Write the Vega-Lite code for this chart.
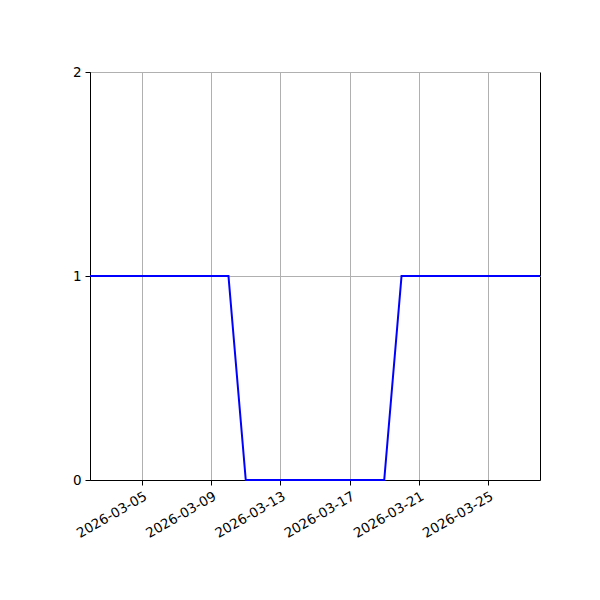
{
  "$schema": "https://vega.github.io/schema/vega-lite/v6.json",
  "width": 450,
  "height": 408,
  "autosize": {"type": "none"},
  "padding": {"left": 90, "top": 72, "right": 60, "bottom": 120},
  "background": "white",
  "config": {
    "view": {"stroke": "black", "strokeWidth": 1},
    "axis": {
      "domainColor": "black",
      "tickColor": "black",
      "tickSize": 5,
      "labelFont": "DejaVu Sans",
      "labelFontSize": 13.5,
      "labelColor": "black",
      "gridColor": "#b0b0b0",
      "gridWidth": 1,
      "title": null
    }
  },
  "data": {
    "values": [
      {"date": "2026-03-02", "value": 1},
      {"date": "2026-03-03", "value": 1},
      {"date": "2026-03-04", "value": 1},
      {"date": "2026-03-05", "value": 1},
      {"date": "2026-03-06", "value": 1},
      {"date": "2026-03-07", "value": 1},
      {"date": "2026-03-08", "value": 1},
      {"date": "2026-03-09", "value": 1},
      {"date": "2026-03-10", "value": 1},
      {"date": "2026-03-11", "value": 0},
      {"date": "2026-03-12", "value": 0},
      {"date": "2026-03-13", "value": 0},
      {"date": "2026-03-14", "value": 0},
      {"date": "2026-03-15", "value": 0},
      {"date": "2026-03-16", "value": 0},
      {"date": "2026-03-17", "value": 0},
      {"date": "2026-03-18", "value": 0},
      {"date": "2026-03-19", "value": 0},
      {"date": "2026-03-20", "value": 1},
      {"date": "2026-03-21", "value": 1},
      {"date": "2026-03-22", "value": 1},
      {"date": "2026-03-23", "value": 1},
      {"date": "2026-03-24", "value": 1},
      {"date": "2026-03-25", "value": 1},
      {"date": "2026-03-26", "value": 1},
      {"date": "2026-03-27", "value": 1},
      {"date": "2026-03-28", "value": 1}
    ]
  },
  "mark": {"type": "line", "color": "#0000ff", "strokeWidth": 2, "clip": false},
  "encoding": {
    "x": {
      "field": "date",
      "type": "temporal",
      "scale": {
        "type": "utc",
        "domain": [
          {"year": 2026, "month": 3, "date": 2, "utc": true},
          {"year": 2026, "month": 3, "date": 28, "utc": true}
        ]
      },
      "axis": {
        "values": [
          {"year": 2026, "month": 3, "date": 5, "utc": true},
          {"year": 2026, "month": 3, "date": 9, "utc": true},
          {"year": 2026, "month": 3, "date": 13, "utc": true},
          {"year": 2026, "month": 3, "date": 17, "utc": true},
          {"year": 2026, "month": 3, "date": 21, "utc": true},
          {"year": 2026, "month": 3, "date": 25, "utc": true}
        ],
        "format": "%Y-%m-%d",
        "labelAngle": -30,
        "labelAlign": "right",
        "labelBaseline": "top",
        "labelPadding": 4,
        "labelDx": -6,
        "labelDy": -3,
        "labelOverlap": false,
        "grid": true
      }
    },
    "y": {
      "field": "value",
      "type": "quantitative",
      "scale": {"domain": [0, 2]},
      "axis": {"values": [0, 1, 2], "format": ".0f", "grid": true, "labelPadding": 4}
    }
  }
}
